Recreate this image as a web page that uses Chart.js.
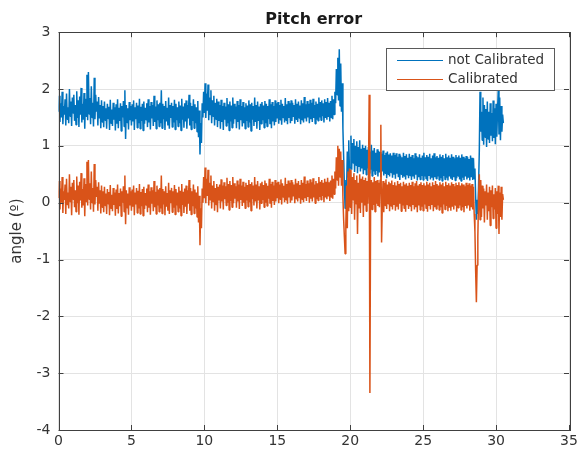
<!DOCTYPE html>
<html>
<head>
<meta charset="utf-8">
<script src="https://cdn.jsdelivr.net/npm/chart.js@4.4.1/dist/chart.umd.min.js"></script>
<style>
    html, body { margin: 0; padding: 0; background: #fff; }
    #wrap { width: 583px; height: 452px; }
</style>
</head>
<body>
<div id="wrap"><canvas id="pitchChart" width="583" height="452"></canvas></div>
<script>
// sample spacing in seconds
const sampleStep = 0.05;

// axis ticks
const xTicks = [0, 5, 10, 15, 20, 25, 30, 35];
const yTicks = [-4, -3, -2, -1, 0, 1, 2, 3];

const seriesLabels = ['not Calibrated', 'Calibrated'];

// pitch error without calibration (deg), one row per second
const notCalibrated = [
    1.60,1.88,1.42,1.75,1.50,1.95,1.38,1.70,1.55,1.82,1.36,1.92,1.47,1.68,1.40,2.00,1.52,1.78,1.35,1.85,
    1.58,1.90,1.44,1.72,1.37,1.96,1.49,1.80,1.33,1.87,1.55,2.02,1.41,1.74,1.46,1.93,1.30,1.83,1.52,2.25,
    1.45,2.30,1.56,1.84,1.38,2.05,1.50,1.76,1.34,2.20,1.47,1.90,1.60,1.78,1.36,1.86,1.48,1.72,1.31,1.80,
    1.42,1.70,1.33,1.78,1.45,1.66,1.30,1.74,1.48,1.69,1.28,1.81,1.40,1.64,1.35,1.76,1.46,1.68,1.27,1.73,
    1.39,1.82,1.31,1.67,1.44,1.75,1.26,1.70,1.50,1.79,1.34,1.98,1.12,1.72,1.41,1.66,1.29,1.77,1.45,1.70,
    1.36,1.73,1.43,1.80,1.28,1.68,1.47,1.76,1.32,1.71,1.40,1.83,1.30,1.69,1.44,1.74,1.27,1.78,1.39,1.67,
    1.46,1.75,1.33,1.82,1.41,1.70,1.29,1.77,1.48,1.72,1.35,1.88,1.42,1.69,1.30,1.80,1.45,1.73,1.34,1.76,
    1.40,1.98,1.31,1.74,1.47,1.70,1.28,1.79,1.43,1.67,1.36,1.85,1.30,1.72,1.49,1.76,1.33,1.70,1.41,1.81,
    1.29,1.74,1.45,1.68,1.34,1.78,1.40,1.71,1.27,1.83,1.46,1.69,1.32,1.75,1.43,1.80,1.30,1.72,1.48,1.90,
    1.36,1.76,1.29,1.70,1.44,1.82,1.31,1.73,1.40,1.68,1.25,1.79,1.15,1.62,0.85,1.40,1.05,1.75,1.50,1.95,
    1.58,2.10,1.49,1.92,1.62,2.08,1.45,1.85,1.55,1.98,1.40,1.80,1.52,1.88,1.36,1.76,1.47,1.83,1.33,1.78,
    1.44,1.72,1.30,1.81,1.42,1.70,1.28,1.76,1.46,1.69,1.35,1.84,1.40,1.73,1.27,1.78,1.43,1.71,1.32,1.85,
    1.39,1.74,1.47,1.69,1.31,1.79,1.42,1.72,1.29,1.82,1.45,1.70,1.34,1.77,1.40,1.68,1.30,1.75,1.44,1.71,
    1.33,1.80,1.41,1.73,1.26,1.76,1.46,1.70,1.35,1.85,1.42,1.72,1.30,1.78,1.44,1.69,1.28,1.74,1.39,1.77,
    1.45,1.71,1.32,1.79,1.40,1.74,1.34,1.70,1.47,1.82,1.38,1.73,1.31,1.77,1.43,1.70,1.36,1.80,1.42,1.75,
    1.48,1.77,1.39,1.72,1.46,1.81,1.37,1.74,1.50,1.70,1.41,1.84,1.45,1.73,1.38,1.79,1.49,1.75,1.40,1.80,
    1.44,1.76,1.51,1.72,1.39,1.82,1.47,1.74,1.42,1.78,1.49,1.71,1.38,1.80,1.46,1.75,1.41,1.86,1.48,1.73,
    1.43,1.79,1.50,1.74,1.40,1.81,1.47,1.76,1.42,1.83,1.49,1.72,1.39,1.78,1.46,1.74,1.44,1.85,1.50,1.77,
    1.45,1.80,1.52,1.75,1.41,1.82,1.49,1.77,1.46,1.84,1.51,1.76,1.43,1.79,1.50,1.88,1.47,1.82,1.55,1.95,
    1.75,2.35,1.90,2.55,1.80,2.70,1.70,2.45,1.60,2.10,1.30,0.80,0.30,-0.10,0.40,0.20,0.90,0.45,1.10,0.55,
    0.62,1.18,0.58,1.05,0.70,1.12,0.54,1.00,0.66,1.08,0.52,0.98,0.63,1.10,0.55,0.95,0.60,1.02,0.50,0.96,
    0.57,1.00,0.49,0.93,0.60,0.98,0.52,0.90,0.58,1.02,0.47,0.92,0.55,0.96,0.50,0.88,0.56,0.94,0.46,0.91,
    0.53,0.89,0.45,0.86,0.55,0.92,0.48,0.84,0.52,0.88,0.43,0.90,0.50,0.85,0.46,0.87,0.53,0.83,0.44,0.88,
    0.49,0.84,0.42,0.87,0.51,0.81,0.45,0.86,0.40,0.83,0.50,0.80,0.44,0.88,0.47,0.82,0.41,0.85,0.49,0.79,
    0.43,0.86,0.48,0.81,0.40,0.84,0.46,0.78,0.42,0.87,0.49,0.82,0.39,0.80,0.45,0.85,0.41,0.79,0.47,0.83,
    0.40,0.88,0.46,0.80,0.42,0.84,0.38,0.81,0.47,0.86,0.41,0.78,0.44,0.83,0.39,0.87,0.45,0.80,0.42,0.82,
    0.46,0.79,0.40,0.85,0.43,0.81,0.38,0.84,0.47,0.78,0.41,0.86,0.44,0.80,0.39,0.83,0.46,0.79,0.42,0.85,
    0.40,0.81,0.45,0.78,0.39,0.84,0.43,0.80,0.47,0.83,0.41,0.79,0.38,0.85,0.44,0.81,0.40,0.78,0.46,0.82,
    0.41,0.80,0.44,0.77,0.39,0.83,0.45,0.79,0.40,0.78,0.42,0.60,0.10,-0.30,0.05,-0.20,0.30,0.90,1.95,1.25,
    1.60,1.10,1.85,1.02,1.72,1.15,1.65,0.98,1.78,1.12,1.60,1.05,1.75,1.18,1.58,1.08,1.80,1.14,1.66,1.03,
    1.74,1.16,1.62,1.98,1.20,1.85,1.10,1.70,1.25,1.55,1.40
];

// pitch error after calibration (deg)
const calibrated = [
    0.08,0.38,-0.12,0.25,0.00,0.45,-0.18,0.20,0.05,0.32,-0.20,0.42,-0.03,0.18,-0.10,0.50,0.02,0.28,-0.22,0.35,
    0.06,0.40,-0.08,0.22,-0.16,0.46,-0.01,0.30,-0.21,0.37,0.04,0.52,-0.09,0.24,-0.05,0.43,-0.24,0.33,0.02,0.72,
    -0.05,0.75,0.06,0.34,-0.12,0.55,0.00,0.26,-0.16,0.68,-0.03,0.40,0.10,0.28,-0.14,0.36,-0.02,0.22,-0.19,0.30,
    -0.08,0.20,-0.17,0.28,-0.05,0.16,-0.20,0.24,-0.02,0.19,-0.22,0.31,-0.10,0.14,-0.15,0.26,-0.04,0.18,-0.23,0.23,
    -0.11,0.32,-0.19,0.17,-0.06,0.25,-0.24,0.20,0.00,0.29,-0.16,0.48,-0.38,0.22,-0.09,0.16,-0.21,0.27,-0.05,0.20,
    -0.14,0.23,-0.07,0.30,-0.22,0.18,-0.03,0.26,-0.18,0.21,-0.10,0.33,-0.20,0.19,-0.06,0.24,-0.23,0.28,-0.11,0.17,
    -0.04,0.25,-0.17,0.32,-0.09,0.20,-0.21,0.27,-0.02,0.22,-0.15,0.38,-0.08,0.19,-0.20,0.30,-0.05,0.23,-0.16,0.26,
    -0.10,0.48,-0.19,0.24,-0.03,0.20,-0.22,0.29,-0.07,0.17,-0.14,0.35,-0.20,0.22,-0.01,0.26,-0.17,0.20,-0.09,0.31,
    -0.21,0.24,-0.05,0.18,-0.16,0.28,-0.10,0.21,-0.23,0.33,-0.04,0.19,-0.18,0.25,-0.07,0.30,-0.20,0.22,-0.02,0.40,
    -0.14,0.26,-0.21,0.20,-0.06,0.32,-0.19,0.23,-0.10,0.18,-0.25,0.29,-0.35,0.12,-0.75,-0.10,-0.45,0.25,0.00,0.45,
    0.08,0.62,-0.01,0.42,0.12,0.58,-0.05,0.35,0.05,0.48,-0.10,0.30,0.02,0.38,-0.14,0.26,-0.03,0.33,-0.17,0.28,
    0.04,0.32,-0.10,0.41,0.02,0.30,-0.12,0.36,0.06,0.29,-0.05,0.44,0.00,0.33,-0.13,0.38,0.03,0.31,-0.08,0.45,
    -0.01,0.34,0.07,0.29,-0.09,0.39,0.02,0.32,-0.11,0.42,0.05,0.30,-0.06,0.37,0.00,0.28,-0.10,0.35,0.04,0.31,
    -0.07,0.40,0.01,0.33,-0.14,0.36,0.06,0.30,-0.05,0.45,0.02,0.32,-0.10,0.38,0.04,0.29,-0.12,0.34,-0.01,0.37,
    0.05,0.31,-0.08,0.39,0.00,0.34,-0.06,0.30,0.07,0.42,-0.02,0.33,-0.09,0.37,0.03,0.30,-0.04,0.40,0.02,0.35,
    0.08,0.37,-0.01,0.32,0.06,0.41,-0.03,0.34,0.10,0.30,0.01,0.44,0.05,0.33,-0.02,0.39,0.09,0.35,0.00,0.40,
    0.04,0.36,0.11,0.32,-0.01,0.42,0.07,0.34,0.02,0.38,0.09,0.31,-0.02,0.40,0.06,0.35,0.01,0.46,0.08,0.33,
    0.03,0.39,0.10,0.34,0.00,0.41,0.07,0.36,0.02,0.43,0.09,0.32,-0.01,0.38,0.06,0.34,0.04,0.45,0.10,0.37,
    0.05,0.40,0.12,0.35,0.01,0.42,0.09,0.37,0.06,0.44,0.11,0.36,0.03,0.39,0.10,0.48,0.07,0.42,0.15,0.55,
    0.25,0.80,0.40,1.00,0.30,0.95,0.45,0.90,0.30,0.75,0.10,-0.30,-0.60,-0.90,-0.40,0.30,-0.45,0.55,-0.15,0.60,
    -0.08,0.58,-0.20,0.45,0.05,0.52,-0.30,0.40,-0.02,0.48,-0.55,0.35,-0.10,0.50,-0.18,0.42,0.00,0.46,-0.25,0.40,
    -0.05,0.44,-0.15,0.38,-0.02,0.42,1.90,-3.35,0.05,0.40,-0.12,0.36,-0.04,0.45,-0.16,0.38,-0.02,0.40,-0.06,0.35,
    -0.08,0.40,1.37,-0.70,-0.03,0.38,-0.17,0.35,-0.05,0.41,-0.11,0.32,-0.02,0.37,-0.15,0.34,-0.06,0.39,-0.12,0.31,
    -0.04,0.36,-0.14,0.30,-0.07,0.38,-0.12,0.33,-0.02,0.35,-0.15,0.29,-0.05,0.37,-0.10,0.32,-0.16,0.34,-0.03,0.30,
    -0.11,0.35,-0.06,0.31,-0.15,0.37,-0.04,0.29,-0.12,0.34,-0.08,0.38,-0.17,0.30,-0.05,0.33,-0.13,0.36,-0.07,0.31,
    -0.14,0.34,-0.03,0.30,-0.10,0.37,-0.16,0.32,-0.06,0.35,-0.12,0.29,-0.04,0.36,-0.15,0.31,-0.08,0.38,-0.11,0.33,
    -0.05,0.30,-0.13,0.36,-0.08,0.32,-0.18,0.35,-0.03,0.29,-0.12,0.37,-0.06,0.31,-0.15,0.34,-0.09,0.30,-0.14,0.36,
    -0.07,0.33,-0.12,0.29,-0.04,0.35,-0.16,0.31,-0.09,0.36,-0.05,0.30,-0.13,0.34,-0.08,0.32,-0.17,0.29,-0.06,0.35,
    -0.10,0.31,-0.05,0.34,-0.14,0.30,-0.08,0.33,-0.12,0.28,-0.20,-0.50,-1.20,-1.75,-1.10,-0.60,0.10,0.50,-0.30,0.40,
    -0.25,0.30,-0.10,0.25,-0.35,0.20,-0.05,0.32,-0.30,0.18,-0.15,0.28,-0.40,0.22,-0.08,0.30,-0.28,0.15,-0.12,0.26,
    -0.45,0.20,-0.20,0.30,-0.55,0.18,-0.25,0.28,-0.30,0.15,0.05
];

const BLUE = '#0072BD';
const ORANGE = '#D95319';
const AXIS_COLOR = '#404040';
const TEXT_COLOR = '#333333';
const FONT = '"DejaVu Sans", sans-serif';

const toPoints = arr => arr.map((v, i) => ({x: +(i * sampleStep).toFixed(2), y: v}));

// matlab style box + inward ticks + legend inside the axes
const matlabAxes = {
    id: 'matlabAxes',
    afterDraw(chart) {
        const ctx = chart.ctx;
        const area = chart.chartArea;
        const xs = chart.scales.x;
        const ys = chart.scales.y;
        ctx.save();
        ctx.strokeStyle = AXIS_COLOR;
        ctx.lineWidth = 1;
        ctx.strokeRect(Math.round(area.left) + 0.5, Math.round(area.top) + 0.5,
            Math.round(area.right - area.left), Math.round(area.bottom - area.top));
        const tl = 5;
        ctx.beginPath();
        xTicks.forEach(t => {
            const px = Math.round(xs.getPixelForValue(t)) + 0.5;
            ctx.moveTo(px, area.bottom); ctx.lineTo(px, area.bottom - tl);
            ctx.moveTo(px, area.top); ctx.lineTo(px, area.top + tl);
        });
        yTicks.forEach(t => {
            const py = Math.round(ys.getPixelForValue(t)) + 0.5;
            ctx.moveTo(area.left, py); ctx.lineTo(area.left + tl, py);
            ctx.moveTo(area.right, py); ctx.lineTo(area.right - tl, py);
        });
        ctx.stroke();

        // legend
        const lx = 386, ly = 48, lw = 168, lh = 42;
        ctx.fillStyle = '#ffffff';
        ctx.fillRect(lx, ly, lw, lh);
        ctx.strokeStyle = '#5a5a5a';
        ctx.strokeRect(lx + 0.5, ly + 0.5, lw, lh);
        const colors = [BLUE, ORANGE];
        ctx.font = '13.5px ' + FONT;
        ctx.textBaseline = 'middle';
        seriesLabels.forEach((lab, i) => {
            const y = ly + 12 + i * 19;
            ctx.strokeStyle = colors[i];
            ctx.lineWidth = 1;
            ctx.beginPath();
            ctx.moveTo(lx + 11, y + 0.5);
            ctx.lineTo(lx + 57, y + 0.5);
            ctx.stroke();
            ctx.fillStyle = TEXT_COLOR;
            ctx.fillText(lab, lx + 62, y);
        });
        ctx.restore();
    }
};

const config = {
    type: 'line',
    data: {
        datasets: [
            {
                label: seriesLabels[0],
                data: toPoints(notCalibrated),
                borderColor: BLUE,
                borderWidth: 1.5,
                borderJoinStyle: 'bevel',
                pointRadius: 0,
                tension: 0,
                order: 1,
            },
            {
                label: seriesLabels[1],
                data: toPoints(calibrated),
                borderColor: ORANGE,
                borderWidth: 1.5,
                borderJoinStyle: 'bevel',
                pointRadius: 0,
                tension: 0,
                order: 0,
            }
        ]
    },
    options: {
        responsive: false,
        animation: false,
        layout: {
            padding: {top: 0, right: 14, left: 0, bottom: 0}
        },
        plugins: {
            legend: {display: false},
            tooltip: {enabled: false},
            title: {
                display: true,
                text: 'Pitch error',
                fullSize: false,
                color: '#1a1a1a',
                font: {size: 16, weight: 'bold', family: FONT},
                padding: {top: 10, bottom: 3},
            },
        },
        scales: {
            x: {
                type: 'linear',
                min: 0,
                max: 35,
                afterFit(scale) { scale.height = 22; },
                afterBuildTicks(scale) { scale.ticks = xTicks.map(v => ({value: v})); },
                grid: {color: '#e3e3e3', drawTicks: false},
                border: {display: false},
                ticks: {
                    color: TEXT_COLOR,
                    padding: 3,
                    maxRotation: 0,
                    font: {size: 14, family: FONT},
                },
            },
            y: {
                min: -4,
                max: 3,
                afterFit(scale) { scale.width = 58.5; },
                afterBuildTicks(scale) { scale.ticks = yTicks.map(v => ({value: v})); },
                grid: {color: '#e3e3e3', drawTicks: false},
                border: {display: false},
                title: {
                    display: true,
                    text: 'angle (º)',
                    color: TEXT_COLOR,
                    font: {size: 15, family: FONT},
                    padding: {top: 8, bottom: 0},
                },
                ticks: {
                    color: TEXT_COLOR,
                    padding: 8,
                    font: {size: 14, family: FONT},
                },
            }
        }
    },
    plugins: [matlabAxes],
};

new Chart(document.getElementById('pitchChart'), config);
</script>
</body>
</html>
